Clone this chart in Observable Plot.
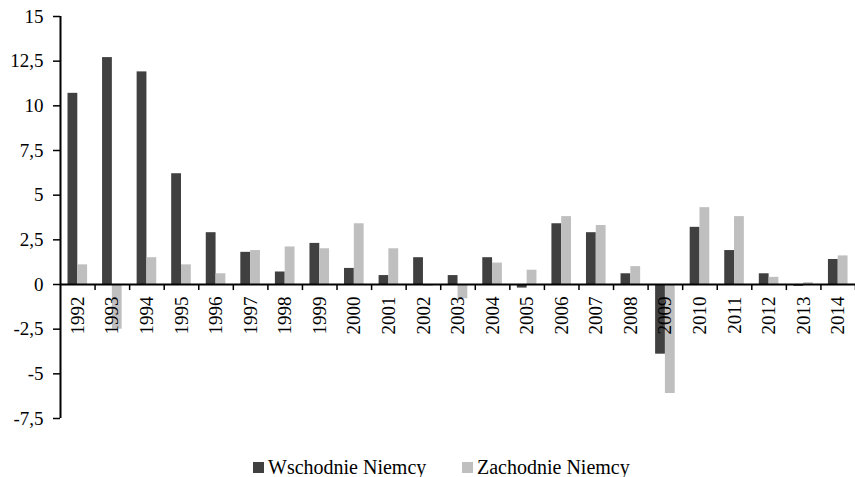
<!DOCTYPE html>
<html><head><meta charset="utf-8">
<script src="https://cdn.jsdelivr.net/npm/d3@7"></script>
<script src="https://cdn.jsdelivr.net/npm/@observablehq/plot@0.6"></script>
<style>
html,body{margin:0;padding:0;background:#fff;}
body{font-family:"Liberation Serif","Times New Roman",serif;width:855px;height:477px;overflow:hidden;}
#legend{position:relative;height:22px;margin-top:16px;font-size:20px;color:#000;}
.item{position:absolute;top:0;height:22px;display:flex;align-items:center;white-space:nowrap;}
.sw{display:inline-block;width:11px;height:11px;margin-right:4px;}
</style></head><body>
<div id="chart"></div>
<div id="legend"></div>
<script>
const years = [1992,1993,1994,1995,1996,1997,1998,1999,2000,2001,2002,2003,2004,2005,2006,2007,2008,2009,2010,2011,2012,2013,2014];
const east = [10.7,12.7,11.9,6.2,2.9,1.8,0.7,2.3,0.9,0.5,1.5,0.5,1.5,-0.2,3.4,2.9,0.6,-3.9,3.2,1.9,0.6,-0.1,1.4];
const west = [1.1,-2.5,1.5,1.1,0.6,1.9,2.1,2.0,3.4,2.0,-0.1,-0.8,1.2,0.8,3.8,3.3,1.0,-6.1,4.3,3.8,0.4,0.1,1.6];
const seriesNames = ["Wschodnie Niemcy","Zachodnie Niemcy"];
const seriesColors = ["#404040","#bfbfbf"];
const yTicks = [-7.5,-5,-2.5,0,2.5,5,7.5,10,12.5,15];

const W = 855, H = 440, ML = 60, MR = 0;
const bw = (W - ML - MR) / years.length;
const eastRows = years.map((y,i)=>({year:y, value:east[i]}));
const westRows = years.map((y,i)=>({year:y, value:west[i]}));
const fmt = d => String(d).replace(".", ",");

const chart = Plot.plot({
  width: W, height: H,
  marginLeft: ML, marginRight: MR, marginTop: 16, marginBottom: 22,
  style: {fontFamily: "Liberation Serif, Times New Roman, serif", fontSize: "19px", color: "#000", background: "#fff"},
  x: {domain: years, padding: 0, round: false, axis: null},
  y: {domain: [-7.5, 15], axis: null},
  marks: [
    Plot.barY(eastRows, {x: "year", y: "value", fill: seriesColors[0], insetLeft: 7.5, insetRight: bw - 17.3}),
    Plot.barY(westRows, {x: "year", y: "value", fill: seriesColors[1], insetLeft: 17.3, insetRight: bw - 27.1}),
    Plot.axisY({ticks: yTicks, tickFormat: fmt, label: null, tickSize: 7, tickPadding: 10, strokeWidth: 1.5, fontSize: 19, fill: "#000"}),
    Plot.ruleY([0], {stroke: "#000", strokeWidth: 2}),
    Plot.ruleX(years, {x: d => d, y1: 0, y2: -0.34, dx: bw / 2, stroke: "#000", strokeWidth: 1.5}),
    Plot.ruleX([years[0]], {x: d => d, y1: -7.5, y2: 15, dx: -bw / 2, stroke: "#000", strokeWidth: 2}),
    Plot.text(years, {x: d => d, y: 0, text: d => String(d), rotate: -90, textAnchor: "end", dy: 12, fontSize: 19, fill: "#000"})
  ]
});
document.getElementById("chart").appendChild(chart);

const legendX = [253, 462];
const legend = document.getElementById("legend");
seriesNames.forEach((name, i) => {
  const item = document.createElement("div");
  item.className = "item";
  item.style.left = legendX[i] + "px";
  const sw = document.createElement("span");
  sw.className = "sw";
  sw.style.background = seriesColors[i];
  item.appendChild(sw);
  item.appendChild(document.createTextNode(name));
  legend.appendChild(item);
});
</script>
</body></html>
